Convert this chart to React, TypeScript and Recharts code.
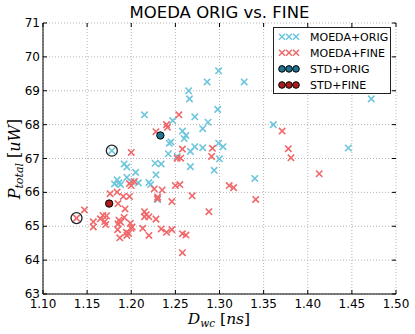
import React from 'react';
import { ScatterChart, Scatter, XAxis, YAxis, CartesianGrid } from 'recharts';

const xTicks = [1.1, 1.15, 1.2, 1.25, 1.3, 1.35, 1.4, 1.45, 1.5];
const yTicks = [63, 64, 65, 66, 67, 68, 69, 70, 71];

const moedaOrig: [number, number][] = [
  [1.299, 69.59], [1.286, 69.26], [1.328, 69.26], [1.265, 69.0], [1.266, 68.76], [1.472, 68.76],
  [1.298, 68.45], [1.215, 68.29], [1.272, 68.23], [1.247, 68.12], [1.287, 68.07], [1.361, 68.0],
  [1.281, 67.88], [1.258, 67.81], [1.262, 67.68], [1.26, 67.59], [1.245, 67.49], [1.243, 67.45],
  [1.272, 67.35], [1.281, 67.32], [1.299, 67.45], [1.304, 67.35], [1.446, 67.31], [1.178, 67.23],
  [1.3, 66.99], [1.242, 67.14], [1.267, 67.21], [1.192, 66.84], [1.195, 66.75], [1.227, 66.86],
  [1.234, 66.84], [1.252, 67.06], [1.267, 66.76], [1.294, 66.65], [1.205, 66.59], [1.228, 66.52],
  [1.195, 66.44], [1.2, 66.32], [1.184, 66.37], [1.186, 66.28], [1.181, 66.25], [1.188, 66.23],
  [1.208, 66.28], [1.22, 66.29], [1.222, 66.23], [1.23, 65.79], [1.34, 66.41],
];

const moedaFine: [number, number][] = [
  [1.254, 68.29], [1.24, 68.0], [1.241, 67.92], [1.228, 67.79], [1.371, 67.81], [1.258, 67.28],
  [1.292, 67.3], [1.378, 67.29], [1.381, 67.02], [1.2, 67.18], [1.252, 67.01], [1.256, 67.01],
  [1.291, 67.06], [1.2035, 66.32], [1.198, 66.26], [1.2, 66.2], [1.226, 66.1], [1.235, 66.07],
  [1.25, 66.2], [1.255, 66.23], [1.176, 65.96], [1.184, 66.01], [1.191, 65.88], [1.198, 65.88],
  [1.23, 65.86], [1.2295, 65.81], [1.269, 65.9], [1.311, 66.2], [1.316, 66.14], [1.413, 66.55],
  [1.246, 65.73], [1.185, 65.67], [1.193, 65.51], [1.147, 65.48], [1.288, 65.43], [1.341, 65.79],
  [1.138, 65.24], [1.215, 65.43], [1.217, 65.34], [1.215, 65.28], [1.22, 65.28], [1.168, 65.32],
  [1.172, 65.31], [1.165, 65.22], [1.17, 65.14], [1.192, 65.26], [1.228, 65.21], [1.186, 65.18],
  [1.188, 65.12], [1.185, 65.07], [1.157, 65.13], [1.157, 64.98], [1.171, 65.05], [1.199, 65.09],
  [1.201, 64.98], [1.1998, 64.94], [1.213, 64.94], [1.1845, 64.9], [1.234, 64.92], [1.24, 64.82],
  [1.246, 64.9], [1.1945, 64.82], [1.197, 64.79], [1.195, 64.73], [1.258, 64.78], [1.262, 64.74],
  [1.22, 64.73], [1.187, 64.66], [1.258, 64.22],
];

const stdOrig: [number, number][] = [[1.233, 67.68]];
const stdFine: [number, number][] = [[1.175, 65.67]];
const highlighted: [number, number][] = [[1.178, 67.23], [1.138, 65.24]];

const toPts = (arr: [number, number][]) => arr.map(([x, y]) => ({ x, y }));

const BLUE = '#6ec6dc';
const RED = '#f0686a';
const STD_BLUE = '#1f7591';
const STD_RED = '#ab1c1c';

const PLOT_TOP = 23;
const PLOT_BOTTOM = 294;
const PLOT_LEFT = 43;
const PLOT_RIGHT = 396;

const xMark = (color: string) => (props: any) => {
  const { cx, cy } = props;
  const s = 3.2;
  return (
    <path
      d={`M${cx - s},${cy - s}L${cx + s},${cy + s}M${cx - s},${cy + s}L${cx + s},${cy - s}`}
      stroke={color}
      strokeWidth={1.6}
      fill="none"
    />
  );
};

const dot = (color: string) => (props: any) => (
  <circle cx={props.cx} cy={props.cy} r={3.7} fill={color} stroke="#000" strokeWidth={1} />
);

const ring = (props: any) => (
  <circle cx={props.cx} cy={props.cy} r={5.5} fill="none" stroke="#222" strokeWidth={1.3} />
);

const XTick = (props: any) => {
  const { x, payload } = props;
  return (
    <g>
      <line x1={x} x2={x} y1={PLOT_BOTTOM} y2={PLOT_BOTTOM - 4} stroke="#000" />
      <line x1={x} x2={x} y1={PLOT_TOP} y2={PLOT_TOP + 4} stroke="#000" />
      <text x={x} y={PLOT_BOTTOM + 14} textAnchor="middle" fontSize={12} fontFamily="DejaVu Sans" fill="#000">
        {payload.value.toFixed(2)}
      </text>
    </g>
  );
};

const YTick = (props: any) => {
  const { y, payload } = props;
  return (
    <g>
      <line x1={PLOT_LEFT} x2={PLOT_LEFT + 4} y1={y} y2={y} stroke="#000" />
      <line x1={PLOT_RIGHT} x2={PLOT_RIGHT - 4} y1={y} y2={y} stroke="#000" />
      <text x={PLOT_LEFT - 3} y={y + 4} textAnchor="end" fontSize={12} fontFamily="DejaVu Sans" fill="#000">
        {payload.value}
      </text>
    </g>
  );
};

const legendRows = [
  { label: 'MOEDA+ORIG', kind: 'x', color: BLUE },
  { label: 'MOEDA+FINE', kind: 'x', color: RED },
  { label: 'STD+ORIG', kind: 'o', color: STD_BLUE },
  { label: 'STD+FINE', kind: 'o', color: STD_RED },
];

const App = () => {
  return (
    <div style={{ position: 'absolute', left: 0, top: 0, width: 415, height: 334, background: '#fff' }}>
      <ScatterChart width={415} height={334} margin={{ top: 23, right: 19, bottom: 10, left: 3 }}>
        <CartesianGrid stroke="#b4b4b4" strokeDasharray="1 2" xAxisId={0} yAxisId={0} />
        <XAxis
          type="number"
          dataKey="x"
          domain={[1.1, 1.5]}
          ticks={xTicks}
          height={30}
          tickSize={0}
          tickMargin={0}
          axisLine={{ stroke: '#000' }}
          tick={XTick}
          allowDataOverflow
        />
        <XAxis xAxisId="top" orientation="top" type="number" domain={[1.1, 1.5]} ticks={xTicks} height={0} tick={false} tickLine={false} axisLine={{ stroke: '#888' }} />
        <YAxis
          type="number"
          dataKey="y"
          domain={[63, 71]}
          ticks={yTicks}
          width={40}
          tickSize={0}
          tickMargin={0}
          axisLine={{ stroke: '#000' }}
          tick={YTick}
          allowDataOverflow
        />
        <YAxis yAxisId="right" orientation="right" type="number" domain={[63, 71]} ticks={yTicks} width={0} tick={false} tickLine={false} axisLine={{ stroke: '#888' }} />
        <Scatter data={toPts(moedaOrig)} shape={xMark(BLUE)} isAnimationActive={false} />
        <Scatter data={toPts(moedaFine)} shape={xMark(RED)} isAnimationActive={false} />
        <Scatter data={toPts(stdOrig)} shape={dot(STD_BLUE)} isAnimationActive={false} />
        <Scatter data={toPts(stdFine)} shape={dot(STD_RED)} isAnimationActive={false} />
        <Scatter data={toPts(highlighted)} shape={ring} isAnimationActive={false} />
      </ScatterChart>
      <svg width={415} height={334} style={{ position: 'absolute', left: 0, top: 0, pointerEvents: 'none' }}>
        <text x={219.5} y={18} textAnchor="middle" fontSize={16.5} fontFamily="DejaVu Sans" fill="#000">
          MOEDA ORIG vs. FINE
        </text>
        <text x={219} y={324} textAnchor="middle" fontSize={15.5} fontFamily="DejaVu Serif" fill="#000">
          <tspan fontStyle="italic">D</tspan>
          <tspan fontStyle="italic" fontSize={10.5} dy={3}>wc</tspan>
          <tspan dy={-3}>{'  ['}</tspan>
          <tspan fontStyle="italic">ns</tspan>
          <tspan>]</tspan>
        </text>
        <text
          transform="translate(20,159) rotate(-90)"
          textAnchor="middle"
          fontSize={16}
          fontFamily="DejaVu Serif"
          fill="#000"
        >
          <tspan fontStyle="italic">P</tspan>
          <tspan fontStyle="italic" fontSize={11} dy={3}>total</tspan>
          <tspan dy={-3}>{'  ['}</tspan>
          <tspan fontStyle="italic">uW</tspan>
          <tspan>]</tspan>
        </text>
        <rect x={273.5} y={27.5} width={117} height={66} fill="#fff" stroke="#222" strokeWidth={1} />
        {legendRows.map((row, i) => {
          const cy = 36.7 + i * 16.1;
          return (
            <g key={row.label}>
              {[282, 289, 296].map((cx) =>
                row.kind === 'x' ? (
                  <path
                    key={cx}
                    d={`M${cx - 3},${cy - 3}L${cx + 3},${cy + 3}M${cx - 3},${cy + 3}L${cx + 3},${cy - 3}`}
                    stroke={row.color}
                    strokeWidth={1.5}
                  />
                ) : (
                  <circle key={cx} cx={cx} cy={cy} r={3.3} fill={row.color} stroke="#000" strokeWidth={1} />
                )
              )}
              <text x={310} y={cy + 4} fontSize={11} fontFamily="DejaVu Sans" fill="#000">
                {row.label}
              </text>
            </g>
          );
        })}
      </svg>
    </div>
  );
};

export default App;
